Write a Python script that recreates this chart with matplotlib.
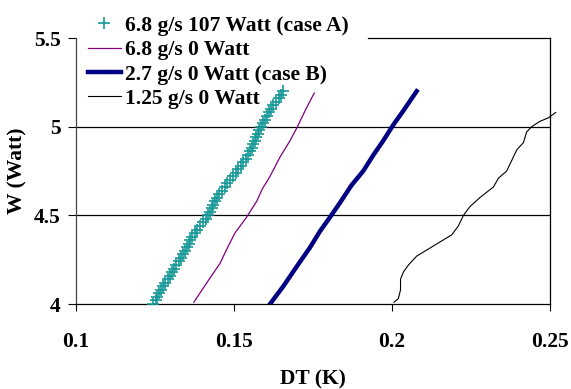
import matplotlib.pyplot as plt

plt.rcParams['font.family'] = ['Liberation Serif', 'DejaVu Serif']
plt.rcParams['font.weight'] = 'bold'

# case A: 6.8 g/s, 107 W (markers)
w_a = [4.00, 4.02, 4.04, 4.06, 4.08, 4.10, 4.12, 4.14, 4.16, 4.18,
       4.20, 4.22, 4.24, 4.26, 4.28, 4.30, 4.32, 4.34, 4.36, 4.38,
       4.40, 4.42, 4.44, 4.46, 4.48, 4.50, 4.52, 4.54, 4.56, 4.58,
       4.60, 4.62, 4.64, 4.66, 4.68, 4.70, 4.72, 4.74, 4.76, 4.78,
       4.80, 4.82, 4.84, 4.86, 4.88, 4.90, 4.92, 4.94, 4.96, 4.98,
       5.00, 5.02, 5.04, 5.06, 5.08, 5.10, 5.12, 5.14, 5.16, 5.18, 5.20]
dt_a = [0.1245, 0.1252, 0.1257, 0.1264, 0.1270, 0.1276, 0.1283, 0.1291, 0.1297, 0.1305,
        0.1311, 0.1318, 0.1326, 0.1333, 0.1340, 0.1345, 0.1351, 0.1357, 0.1362, 0.1368,
        0.1375, 0.1384, 0.1393, 0.1401, 0.1410, 0.1417, 0.1423, 0.1429, 0.1435, 0.1441,
        0.1447, 0.1454, 0.1462, 0.1471, 0.1479, 0.1487, 0.1496, 0.1505, 0.1514, 0.1523,
        0.1530, 0.1537, 0.1545, 0.1551, 0.1556, 0.1561, 0.1566, 0.1571, 0.1575, 0.1580,
        0.1586, 0.1592, 0.1598, 0.1603, 0.1610, 0.1618, 0.1625, 0.1633, 0.1641, 0.1648, 0.1655]

# 6.8 g/s, 0 W
w_b = [4.01, 4.12, 4.23, 4.32, 4.40, 4.49, 4.58, 4.65, 4.72, 4.83, 4.92, 4.99, 5.09, 5.19]
dt_b = [0.1373, 0.1414, 0.1456, 0.1480, 0.1503, 0.1540, 0.1572, 0.1590, 0.1614, 0.1646,
        0.1677, 0.1698, 0.1725, 0.1754]

# case B: 2.7 g/s, 0 W
w_c = [4.00, 4.10, 4.21, 4.32, 4.41, 4.49, 4.57, 4.67, 4.75, 4.84, 4.92, 5.01, 5.09, 5.20]
dt_c = [0.1614, 0.1656, 0.1698, 0.1741, 0.1772, 0.1804, 0.1835, 0.1872, 0.1909, 0.1941,
        0.1972, 0.2004, 0.2036, 0.2078]

# 1.25 g/s, 0 W
w_d = [4.01, 4.03, 4.08, 4.14, 4.18, 4.22, 4.27, 4.31, 4.35, 4.39, 4.44, 4.50, 4.55,
       4.60, 4.66, 4.71, 4.75, 4.81, 4.87, 4.91, 4.97, 5.00, 5.03, 5.05, 5.08]
dt_d = [0.2006, 0.2020, 0.2027, 0.2027, 0.2036, 0.2052, 0.2078, 0.2115, 0.2152, 0.2189,
        0.2210, 0.2226, 0.2247, 0.2278, 0.2321, 0.2337, 0.2363, 0.2379, 0.2395, 0.2416,
        0.2426, 0.2442, 0.2468, 0.2495, 0.2518]

FS = 15.5

fig = plt.figure(figsize=(5.71, 3.89), dpi=100)
ax = fig.add_axes([76 / 571, 1 - 304 / 389, 474 / 571, 266 / 389])

ax.plot(dt_a, w_a, linestyle='none', marker='+', markersize=8, markeredgewidth=1.2,
        color='#169898', label='6.8 g/s 107 Watt (case A)', zorder=3)
ax.plot(dt_b, w_b, color='#800080', lw=0.9, label='6.8 g/s 0 Watt', zorder=3)
ax.plot(dt_c, w_c, color='#000080', lw=3.2, label='2.7 g/s 0 Watt (case B)', zorder=3)
ax.plot(dt_d, w_d, color='black', lw=0.8, label='1.25 g/s 0 Watt', zorder=3, clip_on=False)

ax.set_xlim(0.1, 0.25)
ax.set_ylim(4, 5.5)
ax.set_xticks([0.1, 0.15, 0.2, 0.25])
ax.set_xticklabels(['0.1', '0.15', '0.2', '0.25'])
ax.set_yticks([4, 4.5, 5, 5.5])
ax.set_yticklabels(['4', '4.5', '5', '5.5'])
ax.tick_params(axis='x', direction='out', length=5, width=0.8, pad=15, labelsize=FS)
ax.tick_params(axis='y', direction='out', length=6, width=0.8, pad=5, labelsize=FS)

for y in [4.5, 5.0]:
    ax.axhline(y, color='black', lw=0.9, zorder=1)

ax.spines['top'].set_visible(False)
for s in ['left', 'right', 'bottom']:
    ax.spines[s].set_linewidth(0.9)
ax.spines['left'].set_color('#444444')
# top border only where the legend does not cover it
ax.axhline(5.5, xmin=(368 - 76) / 474, xmax=1, color='black', lw=0.9, clip_on=False)

ax.set_xlabel('DT (K)', fontsize=FS, fontweight='bold', labelpad=13)
ax.set_ylabel('W (Watt)', fontsize=FS, fontweight='bold', labelpad=5)

leg = fig.legend(loc='upper left', bbox_to_anchor=(77 / 571, 1 - 5 / 389),
                 frameon=False, fontsize=FS, handlelength=1.55, handletextpad=0.2,
                 labelspacing=0.2, borderpad=0, numpoints=1)
for t in leg.get_texts():
    t.set_fontweight('bold')

plt.savefig('out.png', dpi=100)
